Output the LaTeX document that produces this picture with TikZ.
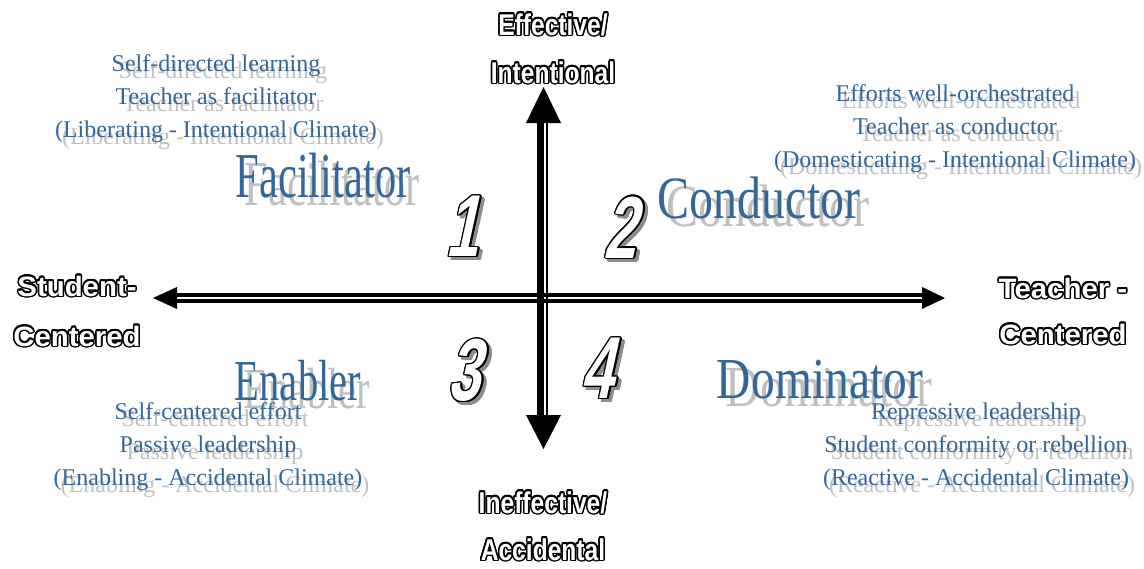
\documentclass[tikz,border=0pt]{standalone}
\usepackage{fontspec}
\setmainfont{Liberation Serif}
\newfontfamily\axisfont{Liberation Sans}
\newfontfamily\numfont{Liberation Sans}[FakeSlant=0.22,FakeStretch=0.66]
\usepackage{graphicx}
\usepackage{contour}
\definecolor{qblue}{RGB}{51,102,153}
\definecolor{qshadow}{RGB}{192,192,192}
\definecolor{nshadow}{RGB}{140,140,140}
\tikzset{
  quadtext/.style={font=\fontsize{24}{33}\selectfont, align=center, inner sep=0pt},
  bigword/.style={inner sep=0pt, anchor=base},
  axislabel/.style={text=white, inner sep=0pt, anchor=base, font=\axisfont\bfseries\fontsize{30}{34}\selectfont},
  sidelabel/.style={text=white, inner sep=0pt, anchor=base, font=\axisfont\bfseries\fontsize{28}{32}\selectfont},
  numlabel/.style={inner sep=0pt, font=\numfont\bfseries\fontsize{88}{88}\selectfont},
  axisline/.style={draw=black, line cap=butt},
  tip/.style={fill=black, draw=none}
}
\newcommand{\bw}[3]{\scalebox{#2}[1]{\fontsize{#1}{#1}\selectfont #3}}
\newcommand{\outl}[2]{\contourlength{1.5pt}\contour{black}{\scalebox{#1}[1]{#2}}}
\begin{document}
\begin{tikzpicture}[x=1pt,y=-1pt]
\useasboundingbox (0,0) rectangle (1144,568);

% ---- horizontal axis ----
\coordinate (hl) at (177,298);
\coordinate (hr) at (922,298);
\coordinate (hlt) at (153,298);
\coordinate (hrt) at (945,298);
\draw[axisline, line width=3.5pt] ([yshift=-3.2pt]hl) -- ([yshift=-3.2pt]hr);
\draw[axisline, line width=3.5pt] ([yshift=3.2pt]hl) -- ([yshift=3.2pt]hr);
\fill[tip] (hlt) -- ([yshift=-11pt]hl) -- ([yshift=11pt]hl) -- cycle;
\fill[tip] (hrt) -- ([yshift=-11pt]hr) -- ([yshift=11pt]hr) -- cycle;

% ---- vertical axis ----
\coordinate (vt) at (543.5,123);
\coordinate (vb) at (543.5,415);
\coordinate (vtt) at (543.5,87);
\coordinate (vbt) at (543.5,449);
\draw[axisline, line width=7pt] ([xshift=-3pt]vt) -- ([xshift=-3pt]vb);
\draw[axisline, line width=2.2pt] ([xshift=3.8pt]vt) -- ([xshift=3.8pt]vb);
\fill[tip] (vtt) -- ([xshift=-17.5pt]vt) -- ([xshift=17.5pt]vt) -- cycle;
\fill[tip] (vbt) -- ([xshift=-17.5pt]vb) -- ([xshift=17.5pt]vb) -- cycle;

% ---- axis labels ----
\node[axislabel] (eff1) at (553,35) {\outl{0.82}{Effective/}};
\node[axislabel] (eff2) at (553,83) {\outl{0.82}{Intentional}};
\node[axislabel] (ine1) at (543,513) {\outl{0.82}{Ineffective/}};
\node[axislabel] (ine2) at (543,560) {\outl{0.82}{Accidental}};
\node[sidelabel] (stu1) at (77,296) {\outl{1.05}{Student-}};
\node[sidelabel] (stu2) at (77,346) {\outl{1.05}{Centered}};
\node[sidelabel] (tea1) at (1063,298) {\outl{1.05}{Teacher -}};
\node[sidelabel] (tea2) at (1063,344) {\outl{1.05}{Centered}};

% ---- quadrant numbers ----
\node[numlabel, text=nshadow] (n1s) at (465,230) {\contourlength{1.3pt}\contour{nshadow}{1}};
\node[numlabel, text=white] (n1) at (462,227) {\contourlength{1.3pt}\contour{black}{1}};
\node[numlabel, text=nshadow] (n2s) at (623,231) {\contourlength{1.3pt}\contour{nshadow}{2}};
\node[numlabel, text=white] (n2) at (620,228) {\contourlength{1.3pt}\contour{black}{2}};
\node[numlabel, text=nshadow] (n3s) at (467,374) {\contourlength{1.3pt}\contour{nshadow}{3}};
\node[numlabel, text=white] (n3) at (464,371) {\contourlength{1.3pt}\contour{black}{3}};
\node[numlabel, text=nshadow] (n4s) at (600,372) {\contourlength{1.3pt}\contour{nshadow}{4}};
\node[numlabel, text=white] (n4) at (597,369) {\contourlength{1.3pt}\contour{black}{4}};

% ---- big words ----
\node[bigword, text=qshadow] (facs) at (332,205) {\bw{64}{0.665}{Facilitator}};
\node[bigword, text=qblue] (fac) at (323,197) {\bw{64}{0.665}{Facilitator}};
\node[bigword, text=qshadow] (cons) at (768,226) {\bw{60}{0.8}{Conductor}};
\node[bigword, text=qblue] (con) at (759,218) {\bw{60}{0.8}{Conductor}};
\node[bigword, text=qshadow] (enas) at (307,408) {\bw{58}{0.7}{Enabler}};
\node[bigword, text=qblue] (ena) at (298,400) {\bw{58}{0.7}{Enabler}};
\node[bigword, text=qshadow] (doms) at (829,406) {\bw{58}{0.82}{Dominator}};
\node[bigword, text=qblue] (dom) at (820,398) {\bw{58}{0.82}{Dominator}};

% ---- quadrant descriptions ----
\node[quadtext, text=qshadow] (tls) at (223,106) {Self-directed learning\\Teacher as facilitator\\(Liberating - Intentional Climate)};
\node[quadtext, text=qblue] (tl) at (216,99) {Self-directed learning\\Teacher as facilitator\\(Liberating - Intentional Climate)};
\node[quadtext, text=qshadow] (trs) at (961,136) {Efforts well-orchestrated\\Teacher as conductor\\(Domesticating - Intentional Climate)};
\node[quadtext, text=qblue] (tr) at (955,129) {Efforts well-orchestrated\\Teacher as conductor\\(Domesticating - Intentional Climate)};
\node[quadtext, text=qshadow] (bls) at (215,454) {Self-centered effort\\Passive leadership\\(Enabling - Accidental Climate)};
\node[quadtext, text=qblue] (bl) at (208,447) {Self-centered effort\\Passive leadership\\(Enabling - Accidental Climate)};
\node[quadtext, text=qshadow] (brs) at (982,454) {Repressive leadership\\Student conformity or rebellion\\(Reactive - Accidental Climate)};
\node[quadtext, text=qblue] (br) at (976,447) {Repressive leadership\\Student conformity or rebellion\\(Reactive - Accidental Climate)};
\end{tikzpicture}
\end{document}
